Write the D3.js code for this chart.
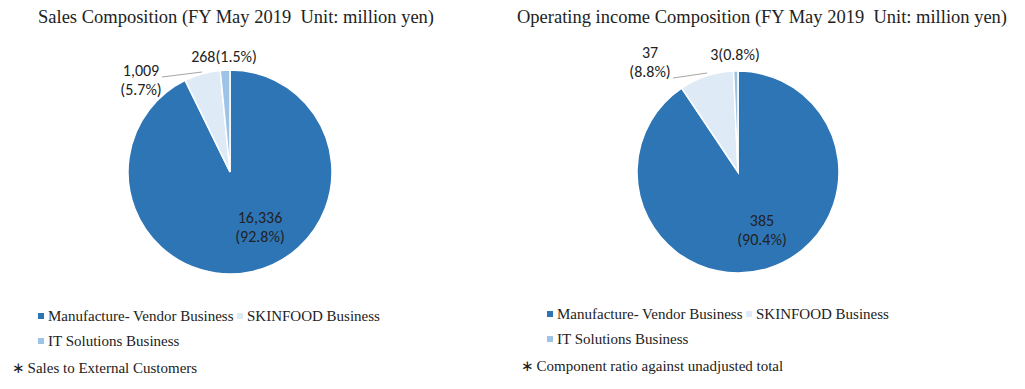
<!DOCTYPE html>
<html>
<head>
<meta charset="utf-8">
<script src="https://cdn.jsdelivr.net/npm/d3@7"></script>
<style>
  body { margin: 0; background: #fff; }
  svg { display: block; }
</style>
</head>
<body>
<svg id="chart" width="1025" height="389"></svg>
<script>
// the data
var segments = ['Manufacture- Vendor Business', 'SKINFOOD Business', 'IT Solutions Business'];
var colors = ['#2e75b6', '#deebf7', '#9dc3e6'];
var salesValues = [16336, 1009, 268];
var salesPct = ['92.8%', '5.7%', '1.5%'];
var incomeValues = [385, 37, 3];
var incomePct = ['90.4%', '8.8%', '0.8%'];

var charts = [
  { title: 'Sales Composition (FY May 2019\u00a0 Unit: million yen)', titleX: 38,
    values: salesValues, pct: salesPct, cx: 230, cy: 172, r: 102,
    legendX: 38, legendY: 321, note: 'Sales to External Customers', noteX: 12, noteY: 373,
    // label placement (baseline of last line)
    labels: [
      { x: 260, y: 242, lines: 2 },
      { x: 141, y: 95, lines: 2, leader: [[162, 77], [202, 72]] },
      { x: 224, y: 62, lines: 1 }
    ] },
  { title: 'Operating income Composition (FY May 2019\u00a0 Unit: million yen)', titleX: 517,
    values: incomeValues, pct: incomePct, cx: 738, cy: 172, r: 101,
    legendX: 547, legendY: 319, note: 'Component ratio against unadjusted total', noteX: 521, noteY: 371,
    labels: [
      { x: 762, y: 245, lines: 2 },
      { x: 650, y: 77, lines: 2, leader: [[673, 78], [707, 73]] },
      { x: 735, y: 60, lines: 1 }
    ] }
];

var svg = d3.select('#chart');
var pie = d3.pie().sort(null).value(d => d);
var serif = 'Liberation Serif, Times New Roman, serif';

charts.forEach(function(c){
  var g = svg.append('g');

  g.append('text')
    .attr('x', c.titleX).attr('y', 23)
    .attr('font-family', serif)
    .attr('font-size', 18.5).attr('fill', '#222')
    .text(c.title);

  var arc = d3.arc().innerRadius(0).outerRadius(c.r);
  var pg = g.append('g').attr('transform', 'translate(' + c.cx + ',' + c.cy + ')');
  pg.selectAll('path')
    .data(pie(c.values)).enter().append('path')
    .attr('d', arc)
    .attr('fill', (d, i) => colors[i])
    .attr('stroke', '#fff').attr('stroke-width', 1.5);

  // data labels
  c.labels.forEach(function(l, i){
    var val = d3.format(',')(c.values[i]);
    var t = g.append('text')
      .attr('text-anchor', 'middle')
      .attr('font-family', 'Carlito, Open Sans, sans-serif')
      .attr('font-size', 16).attr('fill', '#222');
    if (l.lines === 2) {
      t.append('tspan').attr('x', l.x).attr('y', l.y - 19).text(val);
      t.append('tspan').attr('x', l.x).attr('y', l.y).text('(' + c.pct[i] + ')');
    } else {
      t.append('tspan').attr('x', l.x).attr('y', l.y).text(val + '(' + c.pct[i] + ')');
    }
    if (l.leader) {
      g.append('path')
        .attr('d', d3.line()(l.leader))
        .attr('stroke', '#a6a6a6').attr('fill', 'none').attr('stroke-width', 1);
    }
  });

  // legend
  var legendPos = [[0, 0], [199, 0], [0, 25]];
  segments.forEach(function(s, i){
    var x = c.legendX + legendPos[i][0], y = c.legendY + legendPos[i][1];
    g.append('rect')
      .attr('x', x).attr('y', y - 8).attr('width', 6).attr('height', 6)
      .attr('fill', colors[i]);
    g.append('text')
      .attr('x', x + 10).attr('y', y)
      .attr('font-family', serif)
      .attr('font-size', 15).attr('fill', '#222')
      .text(s);
  });

  // footnote
  var note = g.append('text')
    .attr('x', c.noteX).attr('y', c.noteY)
    .attr('font-family', serif)
    .attr('font-size', 15).attr('fill', '#222');
  note.append('tspan').attr('font-family', 'DejaVu Sans, sans-serif').attr('font-size', 15).text('\u2217');
  note.append('tspan').attr('dx', 3).text(c.note);
});
</script>
</body>
</html>
